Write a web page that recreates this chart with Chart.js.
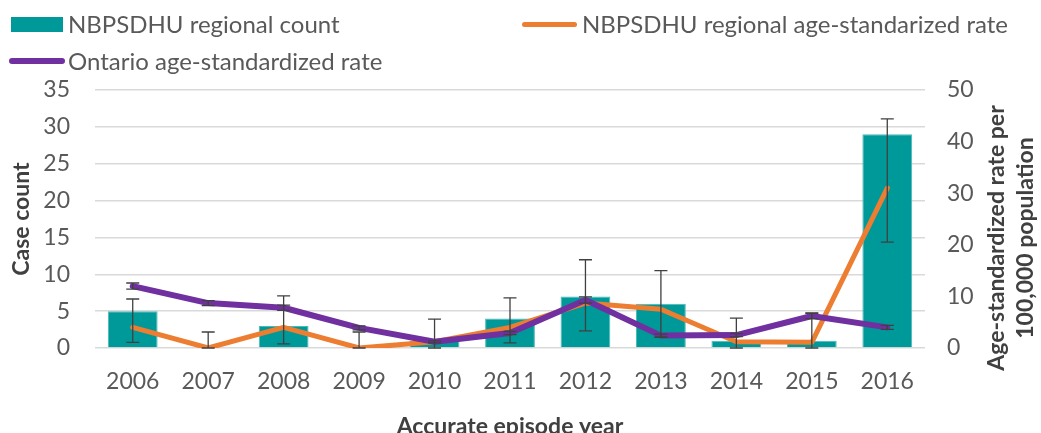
<!DOCTYPE html>
<html><head><meta charset="utf-8">
<script src="https://cdn.jsdelivr.net/npm/chart.js@4"></script>
<style>
html,body{margin:0;padding:0;background:#fff;}
#wrap{position:relative;width:1041px;height:433px;overflow:hidden;font-family:Lato,sans-serif;}
canvas{position:absolute;left:0;top:0;}
.lg{position:absolute;font-size:24px;color:#595959;line-height:28px;white-space:nowrap;}
.sw{position:absolute;}
</style></head><body>
<div id="wrap">
<canvas id="c" width="1041" height="433"></canvas>
<div class="sw" style="left:11px;top:17px;width:52px;height:15px;background:#009999"></div>
<div class="lg" id="lg0" style="left:68px;top:10px"></div>
<div class="sw" style="left:522px;top:21.5px;width:55px;height:5px;border-radius:3px;background:#ED7D31"></div>
<div class="lg" id="lg1" style="left:582px;top:10px"></div>
<div class="sw" style="left:9px;top:58px;width:56px;height:6px;border-radius:3px;background:#7030A0"></div>
<div class="lg" id="lg2" style="left:68px;top:47px"></div>
</div>
<script>
const years = ['2006','2007','2008','2009','2010','2011','2012','2013','2014','2015','2016'];
const regionalCount = [5, 0, 3, 0, 1, 4, 7, 6, 1, 1, 29];
const regionalRate = [4.0, 0, 4.0, 0, 1.2, 4.0, 8.7, 7.5, 1.2, 1.1, 31.0];
const regionalRateLo = [1.1, 0, 0.8, 0, 0, 1.0, 3.3, 2.1, 0, 0, 20.5];
const regionalRateHi = [9.5, 3.1, 10.1, 3.1, 5.6, 9.7, 17.1, 15.0, 5.8, 6.8, 44.4];
const ontarioRate = [12.0, 8.7, 7.8, 3.9, 1.2, 2.9, 9.3, 2.4, 2.5, 6.2, 4.0];
const ontarioRateLo = [11.4, 8.2, 7.3, 3.5, 1.0, 2.6, 8.7, 2.1, 2.2, 5.7, 3.6];
const ontarioRateHi = [12.6, 9.2, 8.3, 4.3, 1.4, 3.2, 9.9, 2.7, 2.8, 6.7, 4.4];
const seriesLabels = ['NBPSDHU regional count', 'NBPSDHU regional age-standarized rate', 'Ontario age-standardized rate'];
const xTitle = 'Accurate episode year';
const leftTitle = 'Case count';
const rightTitle = ['Age-standardized rate per', '100,000 population'];

seriesLabels.forEach((t, i) => { document.getElementById('lg' + i).textContent = t; });

const FONT = 'Lato, sans-serif';
const TICK = '#595959';
const TITLE = '#404040';

const errorBars = {
  id: 'errorBars',
  afterDatasetsDraw(chart) {
    const ctx = chart.ctx;
    const xs = chart.scales.x, ys = chart.scales.y1;
    const sets = [[regionalRateLo, regionalRateHi], [ontarioRateLo, ontarioRateHi]];
    ctx.save();
    ctx.strokeStyle = '#404040';
    ctx.lineWidth = 1.3;
    sets.forEach(([lo, hi]) => {
      years.forEach((y, i) => {
        const x = xs.getPixelForValue(i);
        const y0 = ys.getPixelForValue(lo[i]);
        const y1 = ys.getPixelForValue(hi[i]);
        ctx.beginPath();
        ctx.moveTo(x, y0); ctx.lineTo(x, y1);
        ctx.moveTo(x - 6.5, y0); ctx.lineTo(x + 6.5, y0);
        ctx.moveTo(x - 6.5, y1); ctx.lineTo(x + 6.5, y1);
        ctx.stroke();
      });
    });
    ctx.restore();
  }
};

const rightTitlePlugin = {
  id: 'rightTitle',
  afterDraw(chart) {
    const ctx = chart.ctx;
    const cy = (chart.chartArea.top + chart.chartArea.bottom) / 2 + 19;
    ctx.save();
    ctx.fillStyle = TITLE;
    ctx.font = 'bold 23px ' + FONT;
    ctx.textAlign = 'center';
    ctx.textBaseline = 'middle';
    const xsPos = [997, 1026];
    rightTitle.forEach((t, i) => {
      ctx.save();
      ctx.translate(xsPos[i], cy);
      ctx.rotate(-Math.PI / 2);
      ctx.fillText(t, 0, 0);
      ctx.restore();
    });
    ctx.restore();
  }
};

new Chart(document.getElementById('c'), {
  data: {
    labels: years,
    datasets: [
      { type: 'bar', label: seriesLabels[0], data: regionalCount, yAxisID: 'y',
        backgroundColor: '#009999', borderColor: '#4db8b8', borderWidth: 1,
        categoryPercentage: 1, barPercentage: 0.66, order: 3 },
      { type: 'line', label: seriesLabels[1], data: regionalRate, yAxisID: 'y1',
        borderColor: '#ED7D31', borderWidth: 5, pointRadius: 0, tension: 0,
        borderCapStyle: 'round', borderJoinStyle: 'round', order: 2 },
      { type: 'line', label: seriesLabels[2], data: ontarioRate, yAxisID: 'y1',
        borderColor: '#7030A0', borderWidth: 6, pointRadius: 0, tension: 0,
        borderCapStyle: 'round', borderJoinStyle: 'round', order: 1 }
    ]
  },
  options: {
    responsive: false,
    animation: false,
    layout: { padding: { top: 90, bottom: 0, left: 0, right: 0 } },
    plugins: { legend: { display: false }, tooltip: { enabled: false } },
    scales: {
      x: {
        grid: { display: false, drawTicks: false },
        border: { display: false },
        ticks: { color: TICK, font: { family: FONT, size: 23 }, padding: 20, maxRotation: 0 },
        title: { display: true, text: xTitle, color: TITLE,
                 font: { family: FONT, size: 23, weight: 'bold', lineHeight: 0.6 }, padding: 0 },
        afterFit(s) { s.height = 85; }
      },
      y: {
        position: 'left', min: 0, max: 35,
        grid: { color: '#d9d9d9', lineWidth: 1.5, drawTicks: false },
        border: { display: false },
        ticks: { stepSize: 5, color: TICK, font: { family: FONT, size: 23 }, padding: 25 },
        title: { display: true, text: leftTitle, color: TITLE,
                 font: { family: FONT, size: 23, weight: 'bold', lineHeight: 1.2 }, padding: { top: 8, bottom: 0 } },
        afterFit(s) { s.width = 95; }
      },
      y1: {
        position: 'right', min: 0, max: 50,
        grid: { display: false, drawTicks: false },
        border: { display: false },
        ticks: { stepSize: 10, color: TICK, font: { family: FONT, size: 23 }, padding: 22 },
        afterFit(s) { s.width = 116; }
      }
    }
  },
  plugins: [errorBars, rightTitlePlugin]
});
</script>
</body></html>
